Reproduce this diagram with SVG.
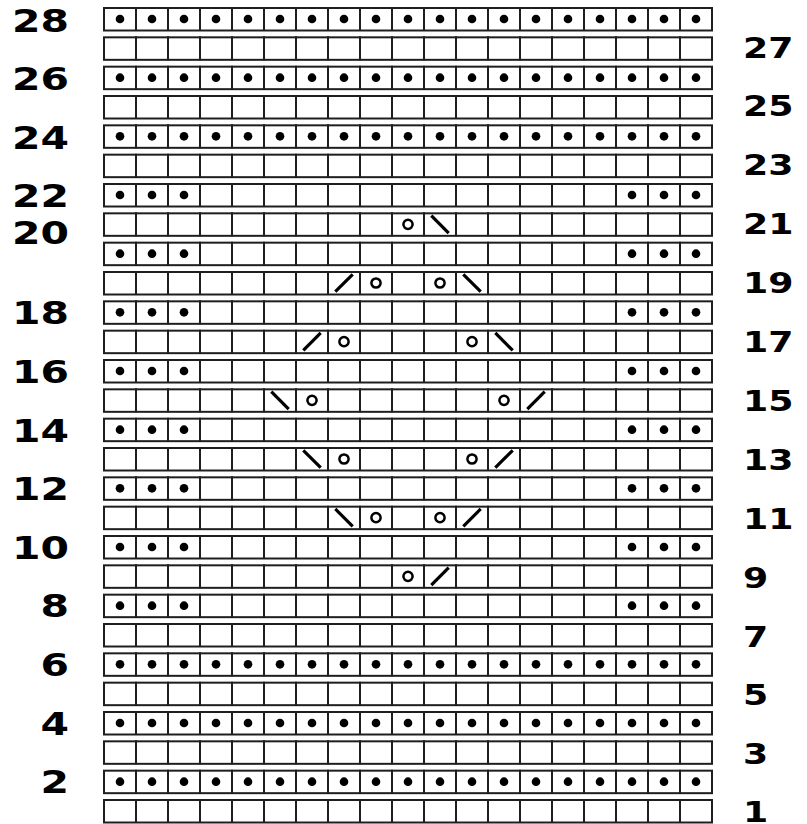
<svg xmlns="http://www.w3.org/2000/svg" width="807" height="824" viewBox="0 0 807 824">
<style>
.box{fill:#fff;stroke:#1e1e1e;stroke-width:2}
.vl{fill:none;stroke:#1e1e1e;stroke-width:2}
.dot{fill:#000}
.yo{fill:none;stroke:#000;stroke-width:2.5}
.dec{fill:none;stroke:#000;stroke-width:3.2}
.lab{font-family:"DejaVu Sans",sans-serif;font-weight:bold;fill:#000}
.l{font-size:31.5px;text-anchor:end}
.r{font-size:29px;text-anchor:start}
</style>
<defs>
<g id="grid">
<rect class="box" x="104" y="1" width="608" height="22.5"/>
<path class="vl" d="M136 0V24M168 0V24M200 0V24M232 0V24M264 0V24M296 0V24M328 0V24M360 0V24M392 0V24M424 0V24M456 0V24M488 0V24M520 0V24M552 0V24M584 0V24M616 0V24M648 0V24M680 0V24"/>
</g>
<g id="dotsAll" class="dot">
<circle cx="120" cy="12" r="4.3"/><circle cx="152" cy="12" r="4.3"/><circle cx="184" cy="12" r="4.3"/><circle cx="216" cy="12" r="4.3"/><circle cx="248" cy="12" r="4.3"/><circle cx="280" cy="12" r="4.3"/><circle cx="312" cy="12" r="4.3"/><circle cx="344" cy="12" r="4.3"/><circle cx="376" cy="12" r="4.3"/><circle cx="408" cy="12" r="4.3"/><circle cx="440" cy="12" r="4.3"/><circle cx="472" cy="12" r="4.3"/><circle cx="504" cy="12" r="4.3"/><circle cx="536" cy="12" r="4.3"/><circle cx="568" cy="12" r="4.3"/><circle cx="600" cy="12" r="4.3"/><circle cx="632" cy="12" r="4.3"/><circle cx="664" cy="12" r="4.3"/><circle cx="696" cy="12" r="4.3"/>
</g>
<g id="dotsEdge" class="dot">
<circle cx="120" cy="12" r="4.3"/><circle cx="152" cy="12" r="4.3"/><circle cx="184" cy="12" r="4.3"/><circle cx="632" cy="12" r="4.3"/><circle cx="664" cy="12" r="4.3"/><circle cx="696" cy="12" r="4.3"/>
</g>
<circle id="o" class="yo" cx="0" cy="0" r="4.6"/>
<path id="bs" class="dec" d="M-8.7 -8.7L8.7 8.7"/>
<path id="fs" class="dec" d="M-8.7 8.7L8.7 -8.7"/>
</defs>

<g id="row28"><use href="#grid" y="7"/><use href="#dotsAll" y="7"/></g>
<g id="row27"><use href="#grid" y="36.33"/></g>
<g id="row26"><use href="#grid" y="65.67"/><use href="#dotsAll" y="65.67"/></g>
<g id="row25"><use href="#grid" y="95"/></g>
<g id="row24"><use href="#grid" y="124.33"/><use href="#dotsAll" y="124.33"/></g>
<g id="row23"><use href="#grid" y="153.67"/></g>
<g id="row22"><use href="#grid" y="183"/><use href="#dotsEdge" y="183"/></g>
<g id="row21"><use href="#grid" y="212.33"/><use href="#o" x="408" y="224.33"/><use href="#bs" x="440" y="224.33"/></g>
<g id="row20"><use href="#grid" y="241.67"/><use href="#dotsEdge" y="241.67"/></g>
<g id="row19"><use href="#grid" y="271"/><use href="#fs" x="344" y="283"/><use href="#o" x="376" y="283"/><use href="#o" x="440" y="283"/><use href="#bs" x="472" y="283"/></g>
<g id="row18"><use href="#grid" y="300.33"/><use href="#dotsEdge" y="300.33"/></g>
<g id="row17"><use href="#grid" y="329.67"/><use href="#fs" x="312" y="341.67"/><use href="#o" x="344" y="341.67"/><use href="#o" x="472" y="341.67"/><use href="#bs" x="504" y="341.67"/></g>
<g id="row16"><use href="#grid" y="359"/><use href="#dotsEdge" y="359"/></g>
<g id="row15"><use href="#grid" y="388.33"/><use href="#bs" x="280" y="400.33"/><use href="#o" x="312" y="400.33"/><use href="#o" x="504" y="400.33"/><use href="#fs" x="536" y="400.33"/></g>
<g id="row14"><use href="#grid" y="417.67"/><use href="#dotsEdge" y="417.67"/></g>
<g id="row13"><use href="#grid" y="447"/><use href="#bs" x="312" y="459"/><use href="#o" x="344" y="459"/><use href="#o" x="472" y="459"/><use href="#fs" x="504" y="459"/></g>
<g id="row12"><use href="#grid" y="476.33"/><use href="#dotsEdge" y="476.33"/></g>
<g id="row11"><use href="#grid" y="505.67"/><use href="#bs" x="344" y="517.67"/><use href="#o" x="376" y="517.67"/><use href="#o" x="440" y="517.67"/><use href="#fs" x="472" y="517.67"/></g>
<g id="row10"><use href="#grid" y="535"/><use href="#dotsEdge" y="535"/></g>
<g id="row9"><use href="#grid" y="564.33"/><use href="#o" x="408" y="576.33"/><use href="#fs" x="440" y="576.33"/></g>
<g id="row8"><use href="#grid" y="593.67"/><use href="#dotsEdge" y="593.67"/></g>
<g id="row7"><use href="#grid" y="623"/></g>
<g id="row6"><use href="#grid" y="652.33"/><use href="#dotsAll" y="652.33"/></g>
<g id="row5"><use href="#grid" y="681.67"/></g>
<g id="row4"><use href="#grid" y="711"/><use href="#dotsAll" y="711"/></g>
<g id="row3"><use href="#grid" y="740.33"/></g>
<g id="row2"><use href="#grid" y="769.67"/><use href="#dotsAll" y="769.67"/></g>
<g id="row1"><use href="#grid" y="799"/></g>

<g id="labels-left" class="lab">
<text class="l" transform="translate(69,31.5) scale(1.3,1)">28</text>
<text class="l" transform="translate(69,90) scale(1.3,1)">26</text>
<text class="l" transform="translate(69,148.6) scale(1.3,1)">24</text>
<text class="l" transform="translate(69,207.2) scale(1.3,1)">22</text>
<text class="l" transform="translate(69,244) scale(1.3,1)">20</text>
<text class="l" transform="translate(69,324.4) scale(1.3,1)">18</text>
<text class="l" transform="translate(69,383) scale(1.3,1)">16</text>
<text class="l" transform="translate(69,441.6) scale(1.3,1)">14</text>
<text class="l" transform="translate(69,500.2) scale(1.3,1)">12</text>
<text class="l" transform="translate(69,558.8) scale(1.3,1)">10</text>
<text class="l" transform="translate(69,617.4) scale(1.3,1)">8</text>
<text class="l" transform="translate(69,676) scale(1.3,1)">6</text>
<text class="l" transform="translate(69,734.6) scale(1.3,1)">4</text>
<text class="l" transform="translate(69,793.2) scale(1.3,1)">2</text>
</g>
<g id="labels-right" class="lab">
<text class="r" transform="translate(743,57.5) scale(1.25,1)">27</text>
<text class="r" transform="translate(743,116.4) scale(1.25,1)">25</text>
<text class="r" transform="translate(743,175.3) scale(1.25,1)">23</text>
<text class="r" transform="translate(743,234.2) scale(1.25,1)">21</text>
<text class="r" transform="translate(743,293.1) scale(1.25,1)">19</text>
<text class="r" transform="translate(743,352) scale(1.25,1)">17</text>
<text class="r" transform="translate(743,410.9) scale(1.25,1)">15</text>
<text class="r" transform="translate(743,469.8) scale(1.25,1)">13</text>
<text class="r" transform="translate(743,528.7) scale(1.25,1)">11</text>
<text class="r" transform="translate(743,587.6) scale(1.25,1)">9</text>
<text class="r" transform="translate(743,646.5) scale(1.25,1)">7</text>
<text class="r" transform="translate(743,705.4) scale(1.25,1)">5</text>
<text class="r" transform="translate(743,764.3) scale(1.25,1)">3</text>
<text class="r" transform="translate(743,821.5) scale(1.25,1)">1</text>
</g>
</svg>
